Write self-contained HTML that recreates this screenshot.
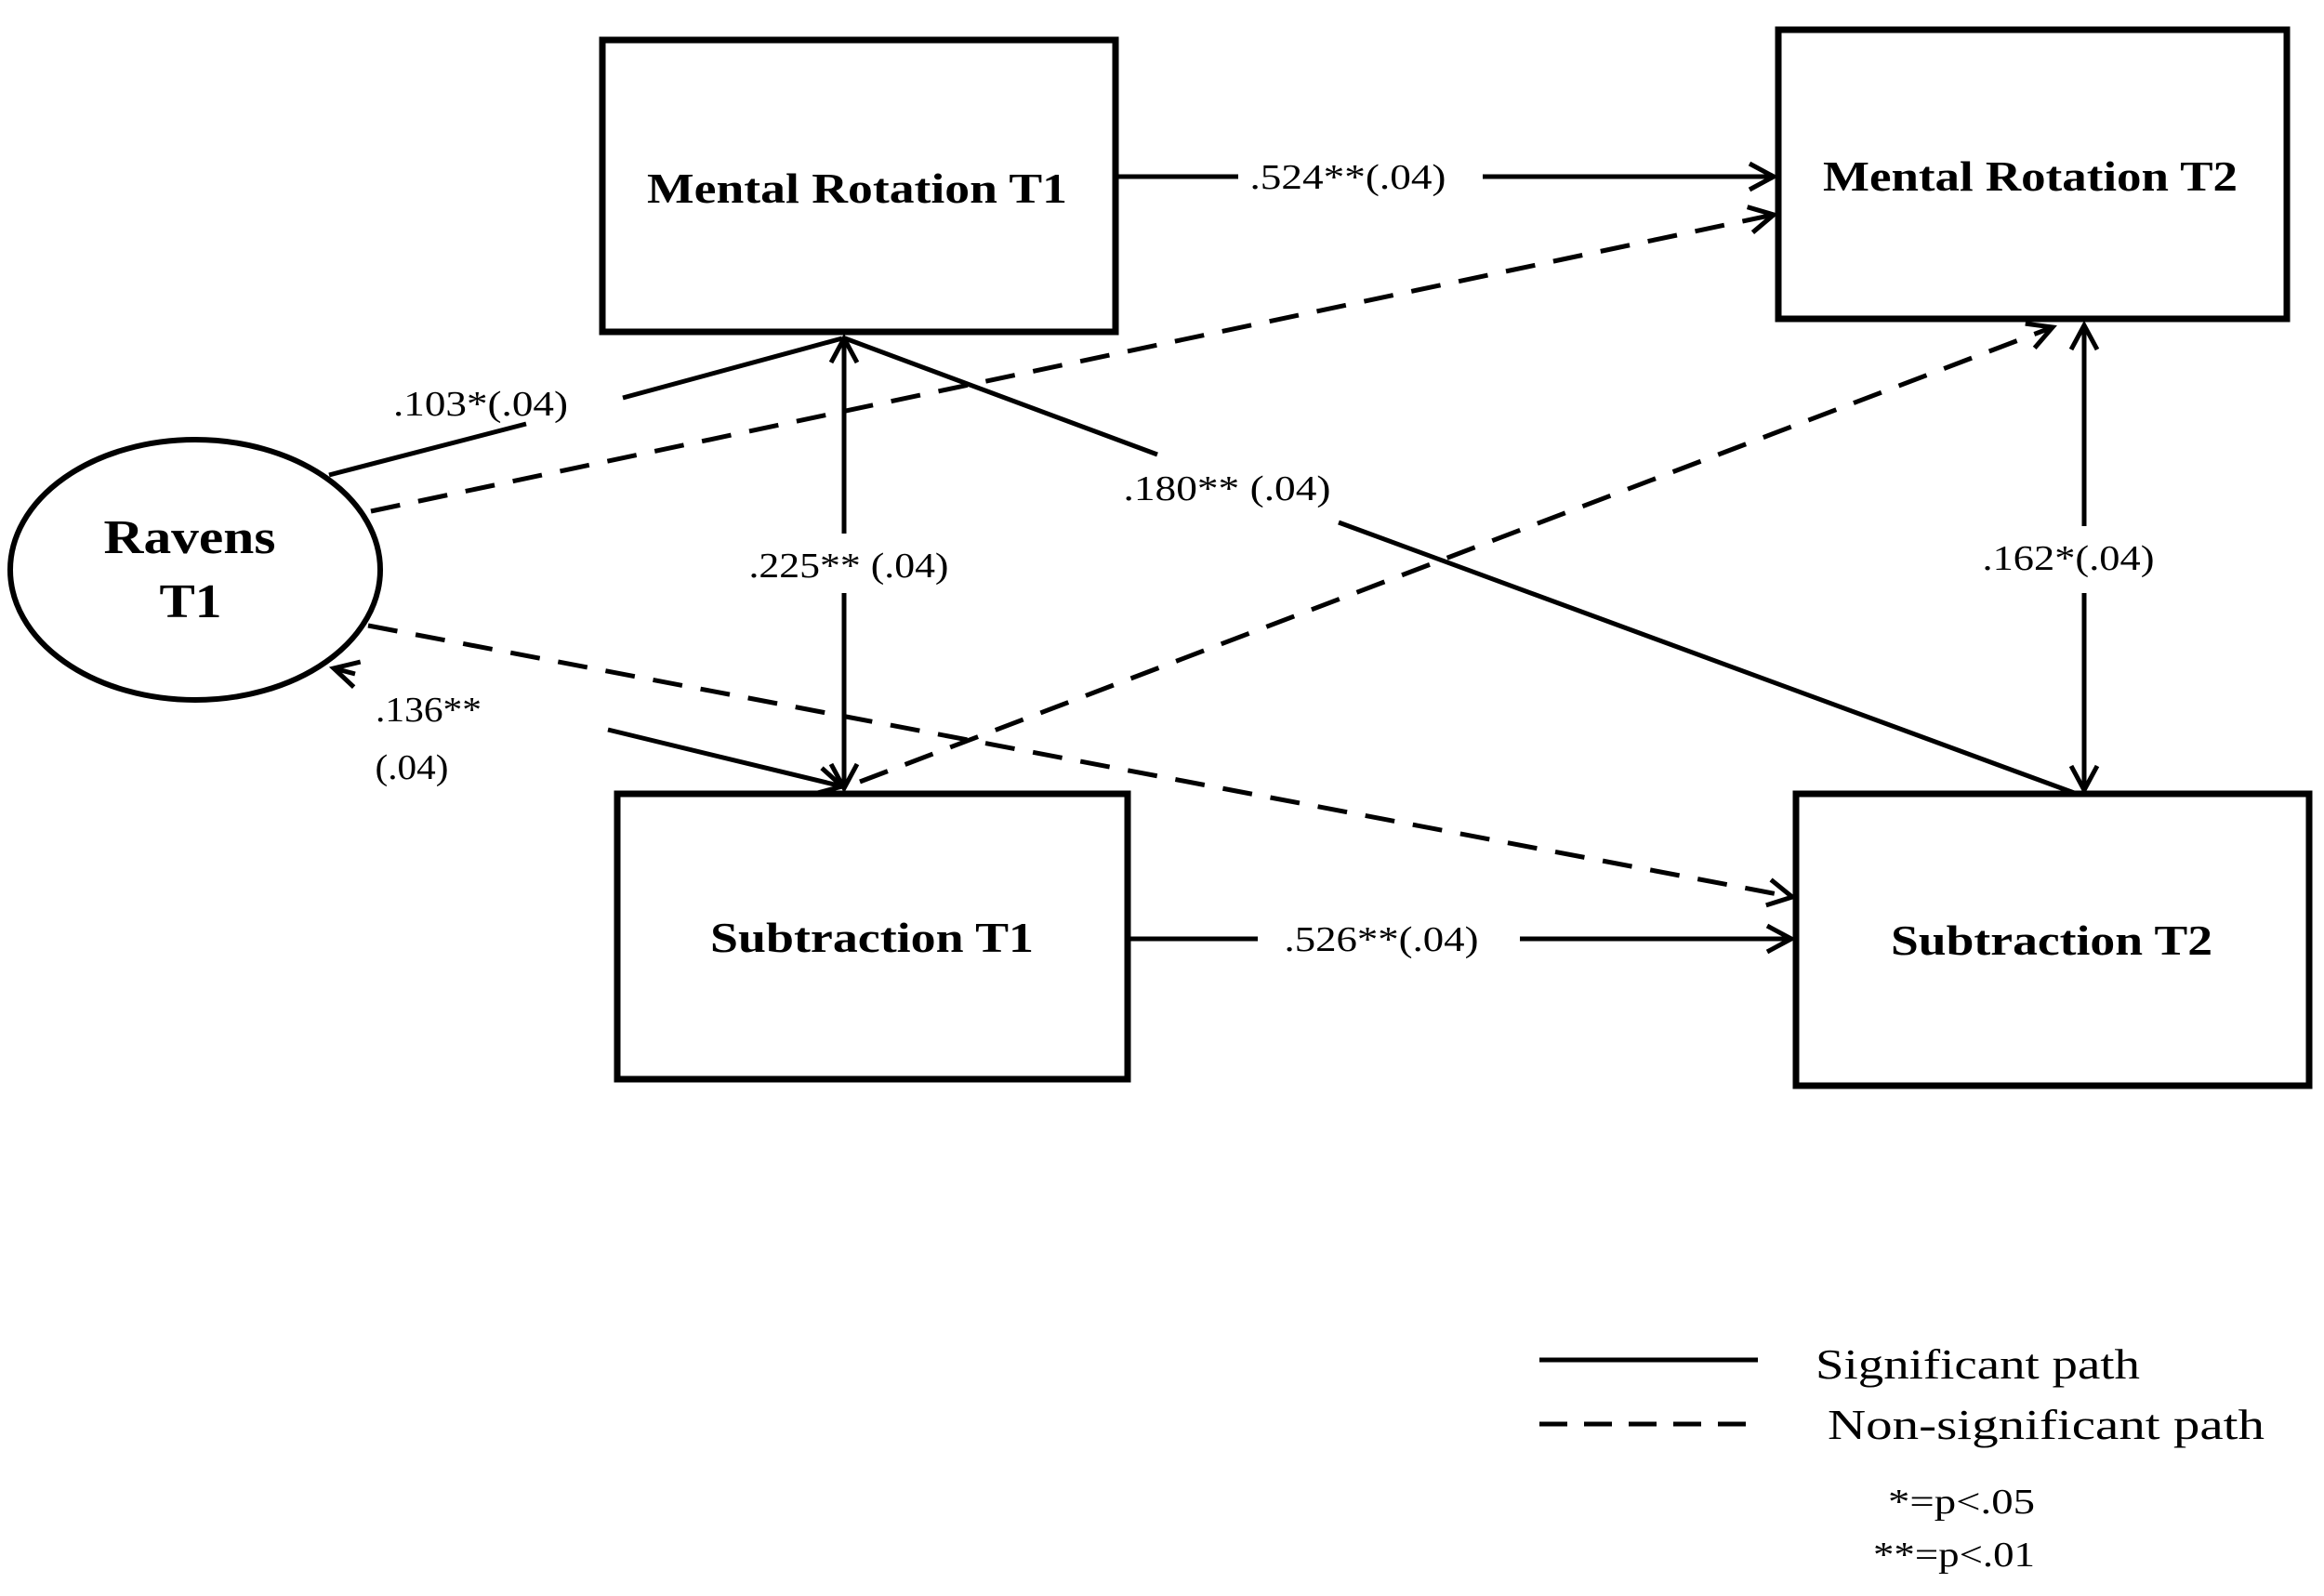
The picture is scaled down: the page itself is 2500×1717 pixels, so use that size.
<!DOCTYPE html>
<html><head><meta charset="utf-8"><style>html,body{margin:0;padding:0;background:#fff}svg{display:block}</style></head>
<body>
<svg width="2500" height="1717" viewBox="0 0 2500 1717" xmlns="http://www.w3.org/2000/svg" font-family="'Liberation Serif', serif">
<defs>
<marker id="a" markerUnits="userSpaceOnUse" markerWidth="40" markerHeight="40" refX="30" refY="20" orient="auto">
<polyline points="4,6 30,20 4,34" fill="none" stroke="#000" stroke-width="5"/>
</marker>
<marker id="b" markerUnits="userSpaceOnUse" markerWidth="40" markerHeight="40" refX="10" refY="20" orient="auto">
<polyline points="36,6 10,20 36,34" fill="none" stroke="#000" stroke-width="5"/>
</marker>
</defs>
<g fill="none" stroke="#000" stroke-width="7">
<rect x="648" y="43" width="552" height="314"/>
<rect x="1913" y="32" width="547" height="311"/>
<rect x="664" y="854" width="549" height="307"/>
<rect x="1932" y="854" width="552" height="314"/>
<ellipse cx="210" cy="613" rx="199" ry="140" stroke-width="6"/>
</g>
<g stroke="#000" stroke-width="5" fill="none">
<line x1="1200" y1="190" x2="1332" y2="190"/>
<line x1="1595" y1="190" x2="1908" y2="190" marker-end="url(#a)"/>
<line x1="1213" y1="1010" x2="1353" y2="1010"/>
<line x1="1635" y1="1010" x2="1927" y2="1010" marker-end="url(#a)"/>
<line x1="354" y1="511" x2="566" y2="456"/>
<line x1="670" y1="428" x2="906" y2="364"/>
<line x1="908" y1="364" x2="908" y2="574" marker-start="url(#b)"/>
<line x1="908" y1="638" x2="908" y2="848" marker-end="url(#a)"/>
<line x1="909" y1="364" x2="1245" y2="489"/>
<line x1="1440" y1="562" x2="2234" y2="854"/>
<line x1="2242" y1="350" x2="2242" y2="566" marker-start="url(#b)"/>
<line x1="2242" y1="638" x2="2242" y2="850" marker-end="url(#a)"/>
<line x1="654" y1="785" x2="906" y2="846" marker-end="url(#a)"/>
<line x1="359" y1="719" x2="382" y2="725" marker-start="url(#b)"/>
</g>
<g stroke="#000" stroke-width="5" fill="none" stroke-dasharray="32,20">
<line x1="399" y1="550" x2="1908" y2="231" marker-end="url(#a)"/>
<line x1="925" y1="841" x2="2208" y2="352" marker-end="url(#a)"/>
<line x1="396" y1="673" x2="1928" y2="965" marker-end="url(#a)"/>
</g>
<g font-weight="bold" font-size="46" text-anchor="middle" fill="#000">
<text x="922" y="218" textLength="452" lengthAdjust="spacingAndGlyphs">Mental Rotation T1</text>
<text x="2184" y="205" textLength="446" lengthAdjust="spacingAndGlyphs">Mental Rotation T2</text>
<text x="938" y="1024" textLength="348" lengthAdjust="spacingAndGlyphs">Subtraction T1</text>
<text x="2207" y="1027" textLength="346" lengthAdjust="spacingAndGlyphs">Subtraction T2</text>
<text x="204" y="595" font-size="52" textLength="185" lengthAdjust="spacingAndGlyphs">Ravens</text>
<text x="205" y="664" font-size="52" textLength="67" lengthAdjust="spacingAndGlyphs">T1</text>
</g>
<g font-size="38" text-anchor="middle" fill="#000">
<text x="1450" y="203" textLength="211" lengthAdjust="spacingAndGlyphs">.524**(.04)</text>
<text x="1486" y="1023" textLength="209" lengthAdjust="spacingAndGlyphs">.526**(.04)</text>
<text x="517" y="447" textLength="188" lengthAdjust="spacingAndGlyphs">.103*(.04)</text>
<text x="913" y="621" textLength="215" lengthAdjust="spacingAndGlyphs">.225** (.04)</text>
<text x="1320" y="538" textLength="223" lengthAdjust="spacingAndGlyphs">.180** (.04)</text>
<text x="2225" y="613" textLength="185" lengthAdjust="spacingAndGlyphs">.162*(.04)</text>
<text x="461" y="776" textLength="114" lengthAdjust="spacingAndGlyphs">.136**</text>
<text x="443" y="838" textLength="79" lengthAdjust="spacingAndGlyphs">(.04)</text>
</g>
<line x1="1656" y1="1463" x2="1891" y2="1463" stroke="#000" stroke-width="5"/>
<line x1="1656" y1="1532" x2="1880" y2="1532" stroke="#000" stroke-width="5" stroke-dasharray="30,18"/>
<g font-size="46" fill="#000">
<text x="1953" y="1483" textLength="349" lengthAdjust="spacingAndGlyphs">Significant path</text>
<text x="1966" y="1548" textLength="470" lengthAdjust="spacingAndGlyphs">Non-significant  path</text>
<text x="2031" y="1628" font-size="38" textLength="158" lengthAdjust="spacingAndGlyphs">*=p&lt;.05</text>
<text x="2015" y="1685" font-size="38" textLength="174" lengthAdjust="spacingAndGlyphs">**=p&lt;.01</text>
</g>
</svg>
</body></html>
